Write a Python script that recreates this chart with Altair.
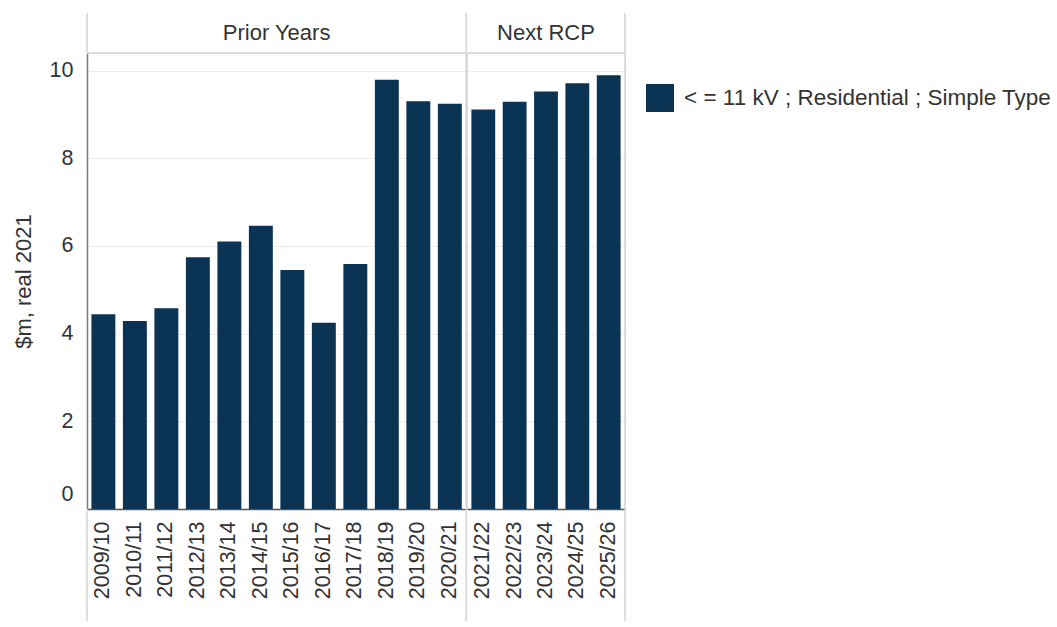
import altair as alt
import pandas as pd

# Annual expenditure, $m real 2021
years_prior = ["2009/10", "2010/11", "2011/12", "2012/13", "2013/14", "2014/15",
               "2015/16", "2016/17", "2017/18", "2018/19", "2019/20", "2020/21"]
values_prior = [4.44, 4.29, 4.58, 5.74, 6.10, 6.46, 5.45, 4.25, 5.59, 9.79, 9.30, 9.24]

years_next = ["2021/22", "2022/23", "2023/24", "2024/25", "2025/26"]
values_next = [9.11, 9.29, 9.52, 9.71, 9.89]

periods = ["Prior Years", "Next RCP"]
series_name = "< = 11 kV ; Residential ; Simple Type"

FONT = "Liberation Sans"
TEXT = "#333333"
BAR = "#0b3354"
SEP = "#d4d4d4"
GRID = "#ececec"

H = 456
HEAD = 40
TAIL = 112
STEP = 31.6

legend = alt.Legend(
    orient="none", legendX=559, legendY=31,
    symbolType="square", symbolSize=784, symbolFillColor=BAR,
    symbolStrokeWidth=0, symbolOpacity=1,
    labelFont=FONT, labelFontSize=22.5, labelColor=TEXT, labelLimit=600,
    labelOffset=10,
)


def panel(years, values, period, first):
    width = STEP * len(years)
    df = pd.DataFrame({"Year": years, "Value": values,
                       "Series": [series_name] * len(years)})
    pdf = pd.DataFrame({"Period": [period]})

    if first:
        yaxis = alt.Axis(
            values=[0, 2, 4, 6, 8, 10], title="$m, real 2021",
            titleFont=FONT, titleFontSize=22, titleFontWeight="normal",
            titleColor=TEXT, titlePadding=14,
            labelFont=FONT, labelFontSize=21.5, labelColor=TEXT, labelPadding=14,
            labelOffset={"condition": {"test": "datum.value === 0", "value": -15}, "value": 0},
            ticks=False, domainColor="#7a7a7a", domainWidth=1.5,
            grid=True, gridColor=GRID,
        )
    else:
        yaxis = alt.Axis(values=[0, 2, 4, 6, 8, 10], labels=False, ticks=False,
                         domain=False, title=None, grid=True, gridColor=GRID,
                         minExtent=0, maxExtent=0, labelPadding=0)

    bars = alt.Chart(df).mark_bar().encode(
        x=alt.X("Year:N", sort=years, title=None,
                scale=alt.Scale(paddingInner=0.24, paddingOuter=0.14),
                axis=alt.Axis(labelAngle=-90, ticks=False, domainColor="#555555",
                              domainWidth=1.5, labelFont=FONT, labelFontSize=21.5,
                              labelColor=TEXT, labelPadding=12)),
        y=alt.Y("Value:Q", scale=alt.Scale(domain=[0, 10.4], nice=False), axis=yaxis),
        color=alt.Color("Series:N", scale=alt.Scale(range=[BAR]), title=None,
                        legend=legend if first else None),
    )

    frame = alt.Chart(pdf)
    right_line = frame.mark_rule(color=SEP, strokeWidth=1.5).encode(
        x=alt.value(width), y=alt.value(-HEAD), y2=alt.value(H + TAIL))
    head_line = frame.mark_rule(color=SEP, strokeWidth=1.5).encode(
        x=alt.value(0), x2=alt.value(width), y=alt.value(0))
    head_text = frame.mark_text(font=FONT, fontSize=22, color=TEXT).encode(
        x=alt.value(width / 2), y=alt.value(-HEAD / 2), text="Period:N")

    layers = [bars, right_line, head_line, head_text]
    if first:
        layers.append(frame.mark_rule(color=SEP, strokeWidth=1.5).encode(
            x=alt.value(0), y=alt.value(-HEAD), y2=alt.value(0)))
        layers.append(frame.mark_rule(color=SEP, strokeWidth=1.5).encode(
            x=alt.value(0), y=alt.value(H), y2=alt.value(H + TAIL)))

    return alt.layer(*layers).properties(width=width, height=H)


chart = (
    alt.hconcat(
        panel(years_prior, values_prior, periods[0], True),
        panel(years_next, values_next, periods[1], False),
        spacing=0, bounds="flush",
    )
    .resolve_scale(x="independent", y="shared", color="shared")
    .properties(padding={"left": 11, "top": 11, "right": 5, "bottom": 0})
    .configure_view(stroke=None)
    .configure(background="white")
)

chart.save("out.html", embed_options={"renderer": "svg", "actions": False})
